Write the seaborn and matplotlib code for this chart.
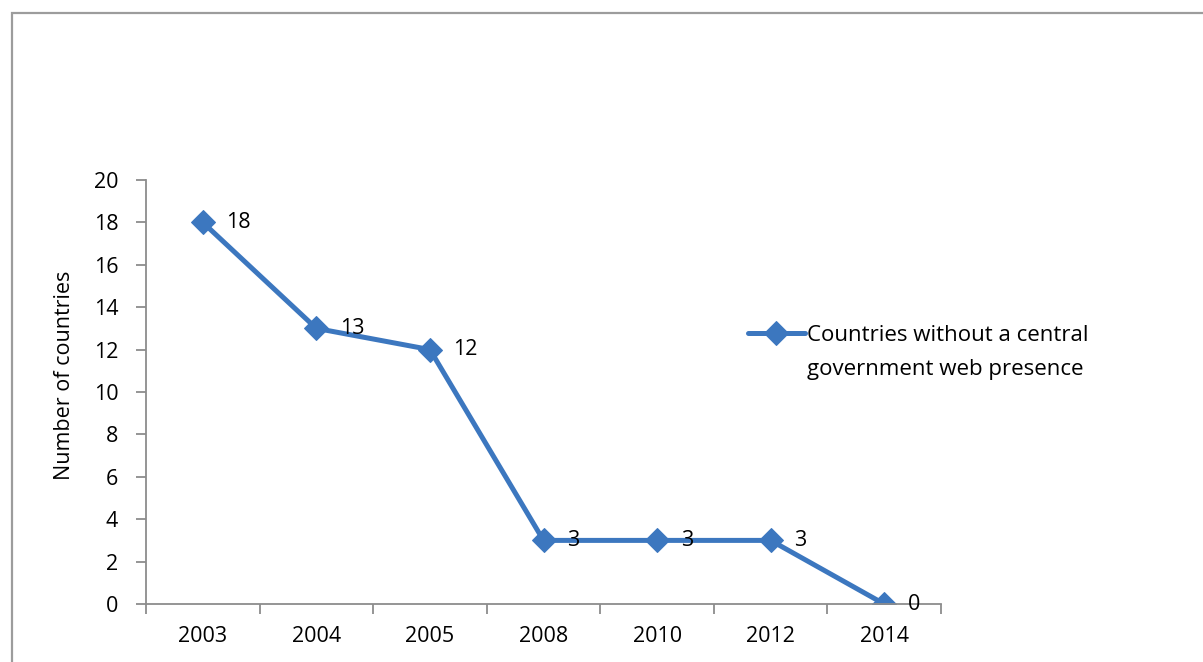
import matplotlib
matplotlib.use("Agg")
import matplotlib.pyplot as plt
import seaborn as sns
import pandas as pd
import numpy as np
from matplotlib.patches import Rectangle
from matplotlib.ticker import FixedLocator, NullFormatter, FixedFormatter

years = ["2003", "2004", "2005", "2008", "2010", "2012", "2014"]
counts = [18, 13, 12, 3, 3, 3, 0]
series_name = "Countries without a central government web presence"
legend_lines = ["Countries without a central", "government web presence"]
y_label = "Number of countries"

sns.set_theme(style="white")
plt.rcParams['font.family'] = ['Open Sans', 'DejaVu Sans']

df = pd.DataFrame({"pos": np.arange(len(years)), "count": counts})

fig = plt.figure(figsize=(12.03, 6.62), dpi=100)
W, H = 1203, 662
ax = fig.add_axes([146 / W, 1 - 604 / H, (941 - 146) / W, (604 - 180) / H])

color = "#3C77BF"
sns.lineplot(data=df, x="pos", y="count", ax=ax, color=color, linewidth=3.6,
             marker="D", markersize=12, markeredgecolor=color, label=legend_lines[0])

for x, y in zip(df["pos"], df["count"]):
    ax.annotate(str(y), (x, y), xytext=(17, 0), textcoords="offset points",
                ha="left", va="center", fontsize=15.5, color="black")

ax.set_xlim(-0.5, len(years) - 0.5)
ax.set_ylim(0, 20)
ax.set_yticks(range(0, 21, 2))
ax.xaxis.set_major_locator(FixedLocator(np.arange(-0.5, len(years), 1.0)))
ax.xaxis.set_major_formatter(NullFormatter())
ax.xaxis.set_minor_locator(FixedLocator(np.arange(len(years))))
ax.xaxis.set_minor_formatter(FixedFormatter(years))
ax.tick_params(axis="x", which="major", direction="out", length=7, width=1.3, color="#8C8C8C", bottom=True)
ax.tick_params(axis="x", which="minor", length=0, pad=16, labelsize=15.5, labelcolor="black", bottom=True)
ax.tick_params(axis="y", direction="out", length=7, width=1.3, color="#8C8C8C", labelsize=15.5,
               labelcolor="black", left=True, pad=13)
ax.set_xlabel("")
ax.set_ylabel(y_label, fontsize=15.5, color="black")
ax.yaxis.set_label_coords(-71 / 795, (604 - 375) / 424)

for s in ["top", "right"]:
    ax.spines[s].set_visible(False)
for s in ["left", "bottom"]:
    ax.spines[s].set_color("#8C8C8C")
    ax.spines[s].set_linewidth(1.3)

leg = ax.legend(loc="upper left", bbox_to_anchor=(748 / W, 1 - 325 / H), bbox_transform=fig.transFigure,
                frameon=False, fontsize=16, handlelength=2.55, handletextpad=0.1, borderpad=0,
                borderaxespad=0, labelcolor="black")

fig.add_artist(Rectangle((12 / W, -0.1), 1.2, 1.1 - 13 / H, transform=fig.transFigure,
                         fill=False, edgecolor="#9C9C9C", linewidth=1.6))

fig.canvas.draw()
t = leg.get_texts()[0]
bb = t.get_window_extent(renderer=fig.canvas.get_renderer())
fig.text(bb.x0 / W, (bb.y0 - 13) / H, legend_lines[1], fontsize=16, color="black",
         ha="left", va="top")

fig.savefig("out.png", dpi=100)
